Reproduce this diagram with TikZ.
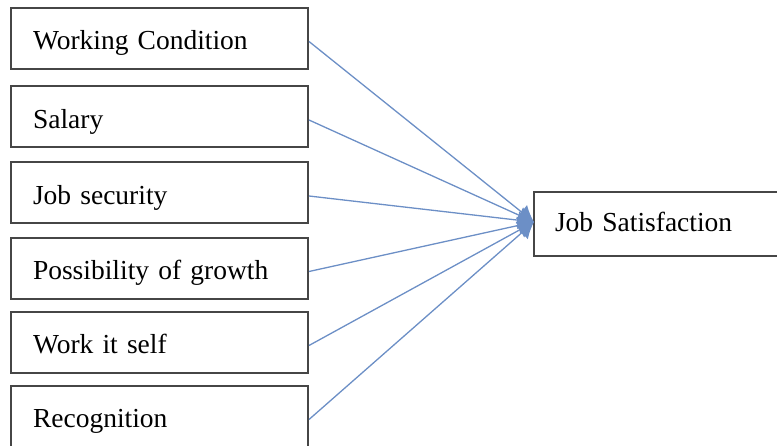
\documentclass[tikz,border=0pt]{standalone}
\usepackage{fontspec}
\setmainfont{Liberation Serif}
\usetikzlibrary{
	arrows.meta,
	positioning
}
\definecolor{linkblue}{RGB}{108,143,198}
\definecolor{boxgrey}{RGB}{70,70,70}

\begin{document}
\begin{tikzpicture}
	[x=1pt, y=-1pt,
	factor/.style={draw=boxgrey, line width=2pt, rectangle, minimum height=61pt,
		text width=253pt, inner xsep=22pt, align=left, anchor=west,
		text height=28pt, text depth=5pt,
		font=\fontsize{27.5}{33}\selectfont},
	link/.style={draw=linkblue, line width=1.3pt,
		-{Latex[length=16pt, width=18pt, fill=linkblue]}}]

	\clip (0,0) rectangle (777,446);

	% factor boxes on the left
	\begin{scope}
		\foreach \name/\y/\txt in {wc/38.5/Working Condition, sal/117/Salary, sec/193/Job security,
			gro/268.5/Possibility of growth, wis/342.5/Work it self, rec/416.5/Recognition} {
			\node[factor] (\name) at (10,\y) {\txt};
		}
	\end{scope}

	% outcome box, runs off the right edge
	\node[factor, text width=230pt, inner xsep=21pt, minimum height=64pt,
		text height=24pt, text depth=8pt] (js) at (533,224) {Job Satisfaction};

	% links into the outcome
	\coordinate (tip) at (534,222);
	\begin{scope}
		\foreach \name in {wc, sal, sec, gro, wis, rec} {
			\draw[link] ([yshift=-3pt]\name.east) -- (tip);
		}
	\end{scope}

\end{tikzpicture}
\end{document}
